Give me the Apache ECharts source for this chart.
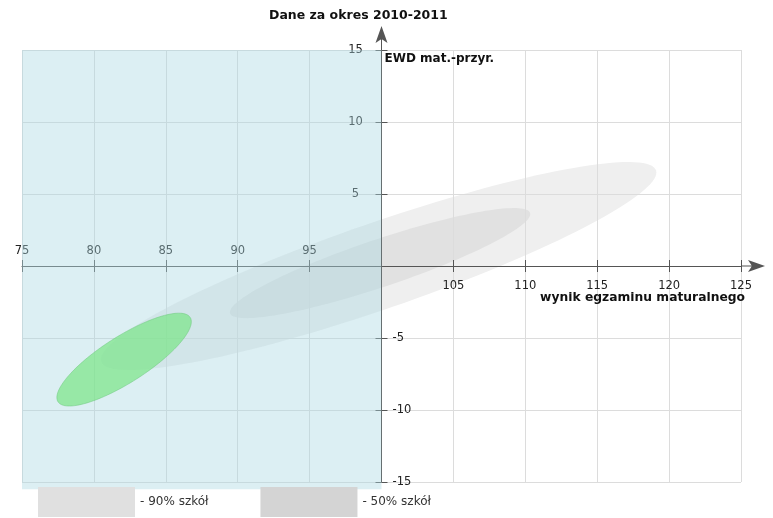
<!DOCTYPE html>
<html>
<head>
<meta charset="utf-8">
<script src="https://cdn.jsdelivr.net/npm/echarts@6/dist/echarts.min.js"></script>
<style>
  html, body { margin: 0; padding: 0; background: #fff; }
  #chart { width: 773px; height: 518px; }
</style>
</head>
<body>
<div id="chart"></div>
<script>
const xRange = [75, 125]
const yRange = [-15, 15]
const tickStep = 5
const axisCross = [100, 0]
// [środek x, środek y, półoś wielka, półoś mała, kąt w stopniach]
const ellipse90 = [99.8, 0.0, 20.4, 3.0, 19]
const ellipse50 = [99.9, 0.2, 11.0, 1.65, 18.5]
const ellipseSchool = [82.1, -6.5, 5.45, 1.6, 32.5]
// obszar poniżej średniej
const belowX = [75, 100]
const belowY = [-15.5, 15]
const legendNames = ['90% szkół', '50% szkół']

const gridLeft = 22
const gridRight = 32
const gridTop = 50
const gridBottom = 36
const plotWidth = 773 - gridLeft - gridRight
const plotHeight = 518 - gridTop - gridBottom
// osie przecinają się w punkcie (100, 0), a nie na brzegu siatki
const yOffset = -(axisCross[0] - xRange[0]) / (xRange[1] - xRange[0]) * plotWidth
const xOffset = -(axisCross[1] - yRange[0]) / (yRange[1] - yRange[0]) * plotHeight

const font = 'DejaVu Sans'
const axisColor = '#555'
// grot z krótkim przedłużeniem osi
const arrowPath = 'path://M6,0 L12,17 L6,13 L0,17 Z M5.5,13 L6.5,13 L6.5,24 L5.5,24 Z'

const ellipseItem = (fill, stroke) => (params, api) => {
  const cx = api.value(0)
  const cy = api.value(1)
  const a = api.value(2)
  const b = api.value(3)
  const rot = api.value(4) * Math.PI / 180
  const points = []
  for (let i = 0; i < 144; i++) {
    const t = i / 144 * Math.PI * 2
    const dx = a * Math.cos(t)
    const dy = b * Math.sin(t)
    points.push(api.coord([
      cx + dx * Math.cos(rot) - dy * Math.sin(rot),
      cy + dx * Math.sin(rot) + dy * Math.cos(rot)
    ]))
  }
  return {
    type: 'polygon',
    shape: { points },
    style: { fill, stroke: stroke || null, lineWidth: stroke ? 1 : 0 }
  }
}

const rectItem = (params, api) => {
  const p0 = api.coord([api.value(0), api.value(3)])
  const p1 = api.coord([api.value(1), api.value(2)])
  return {
    type: 'rect',
    shape: { x: p0[0], y: p0[1], width: p1[0] - p0[0], height: p1[1] - p0[1] },
    style: { fill: 'rgba(170,215,225,0.41)' }
  }
}

const tickLabel = (show) => ({
  color: '#222',
  fontSize: 11.5,
  fontFamily: font,
  formatter: (v) => (show(v) ? String(v) : '')
})

const myChart = echarts.init(document.getElementById('chart'))
const options = {
  animation: false,
  textStyle: { fontFamily: font },
  title: {
    text: 'Dane za okres 2010-2011',
    left: 269,
    top: 9,
    padding: 0,
    textStyle: { fontFamily: font, fontSize: 12.5, fontWeight: 'bold', color: '#111' }
  },
  legend: {
    left: 38,
    top: 487,
    padding: 0,
    itemWidth: 97,
    itemHeight: 30,
    itemGap: 52,
    icon: 'rect',
    selectedMode: false,
    formatter: (name) => '- ' + name,
    textStyle: { fontFamily: font, fontSize: 12, color: '#333' },
    data: [
      { name: legendNames[0], itemStyle: { color: '#e0e0e0' } },
      { name: legendNames[1], itemStyle: { color: '#d4d4d4' } }
    ]
  },
  grid: {
    left: gridLeft,
    right: gridRight,
    top: gridTop,
    bottom: gridBottom,
    containLabel: false,
    outerBoundsMode: 'none'
  },
  xAxis: [
    {
      type: 'value',
      position: 'bottom',
      offset: xOffset,
      z: 2,
      min: xRange[0],
      max: xRange[1],
      interval: tickStep,
      axisLine: {
        onZero: false,
        lineStyle: { color: axisColor, width: 1 },
        symbol: ['none', arrowPath],
        symbolSize: [12, 24],
        symbolOffset: [0, 12]
      },
      axisTick: { show: true, length: 6, lineStyle: { color: axisColor, opacity: 1 } },
      axisLabel: { margin: 14, ...tickLabel((v) => v > axisCross[0]) },
      splitLine: { show: true, lineStyle: { color: '#dcdcdc', width: 1 } },
      name: 'wynik egzaminu maturalnego',
      nameLocation: 'end',
      nameGap: 4,
      nameMoveOverlap: false,
      nameTextStyle: {
        fontFamily: font,
        fontSize: 12.3,
        fontWeight: 'bold',
        color: '#111',
        align: 'right',
        verticalAlign: 'top',
        padding: [26, 0, 0, 0]
      }
    },
    {
      type: 'value',
      position: 'top',
      offset: xOffset,
      z: 2,
      min: xRange[0],
      max: xRange[1],
      interval: tickStep,
      axisLine: { onZero: false, lineStyle: { color: axisColor, opacity: 0 } },
      axisTick: { show: true, length: 6, lineStyle: { color: axisColor, opacity: 1 } },
      axisLabel: { margin: 9, ...tickLabel((v) => v < axisCross[0]) },
      splitLine: { show: false }
    }
  ],
  yAxis: [
    {
      type: 'value',
      position: 'left',
      offset: yOffset,
      z: 2,
      min: yRange[0],
      max: yRange[1],
      interval: tickStep,
      axisLine: {
        show: true,
        onZero: false,
        lineStyle: { color: axisColor, width: 1 },
        symbol: ['none', arrowPath],
        symbolSize: [12, 24],
        symbolOffset: [0, 12]
      },
      axisTick: { show: true, length: 6, lineStyle: { color: axisColor, opacity: 1 } },
      axisLabel: { margin: 26, align: 'center', ...tickLabel((v) => v > axisCross[1]) },
      splitLine: { show: true, lineStyle: { color: '#dcdcdc', width: 1 } },
      name: 'EWD mat.-przyr.',
      nameLocation: 'end',
      nameGap: -3,
      nameMoveOverlap: false,
      nameTextStyle: {
        fontFamily: font,
        fontSize: 12,
        fontWeight: 'bold',
        color: '#111',
        align: 'left',
        verticalAlign: 'top',
        padding: [0, 0, 0, 3]
      }
    },
    {
      type: 'value',
      position: 'right',
      offset: yOffset,
      z: 2,
      min: yRange[0],
      max: yRange[1],
      interval: tickStep,
      axisLine: { show: true, onZero: false, lineStyle: { color: axisColor, opacity: 0 } },
      axisTick: { show: true, length: 6, lineStyle: { color: axisColor, opacity: 1 } },
      axisLabel: { margin: 11, ...tickLabel((v) => v < axisCross[1]) },
      splitLine: { show: false }
    }
  ],
  series: [
    {
      name: legendNames[0],
      type: 'custom',
      z: 1,
      silent: true,
      itemStyle: { color: '#e0e0e0' },
      encode: { x: 0, y: 1 },
      renderItem: ellipseItem('#efefef'),
      data: [ellipse90]
    },
    {
      name: legendNames[1],
      type: 'custom',
      z: 1,
      silent: true,
      itemStyle: { color: '#d4d4d4' },
      encode: { x: 0, y: 1 },
      renderItem: ellipseItem('#e1e1e1'),
      data: [ellipse50]
    },
    {
      name: 'poniżej',
      type: 'custom',
      z: 3,
      silent: true,
      clip: false,
      encode: { x: [0, 1], y: [2, 3] },
      renderItem: rectItem,
      data: [[belowX[0], belowX[1], belowY[0], belowY[1]]]
    },
    {
      name: 'szkoła',
      type: 'custom',
      z: 4,
      silent: true,
      encode: { x: 0, y: 1 },
      renderItem: ellipseItem('rgba(121,230,134,0.7)', 'rgba(110,200,125,0.5)'),
      data: [ellipseSchool]
    }
  ]
}
myChart.setOption(options)
</script>
</body>
</html>
